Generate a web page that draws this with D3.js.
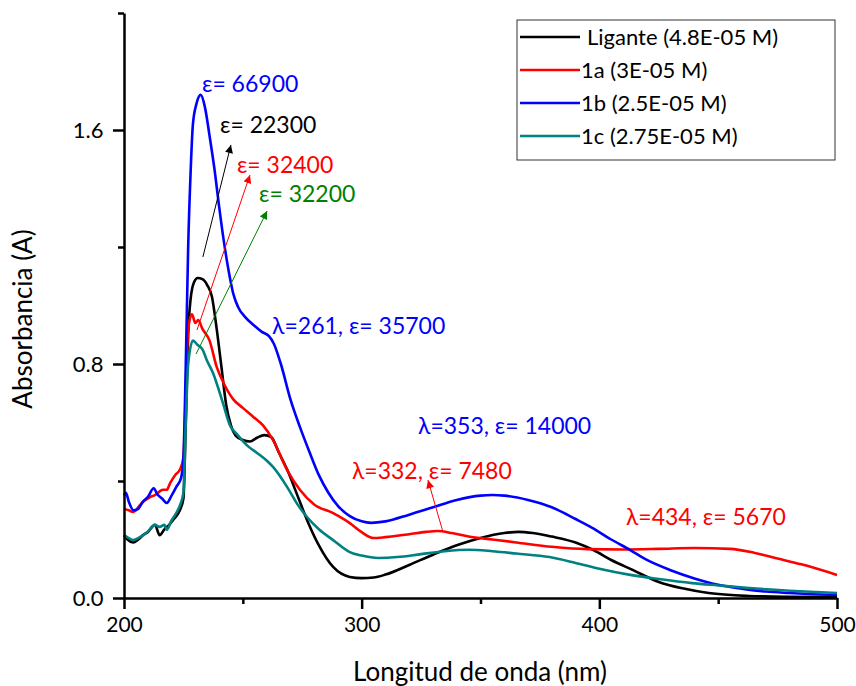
<!DOCTYPE html>
<html>
<head>
<meta charset="utf-8">
<script src="https://cdn.jsdelivr.net/npm/d3@7"></script>
<style>
  body { margin: 0; background: #fff; }
  text { font-family: Lato, "Open Sans", sans-serif; }
</style>
</head>
<body>
<div id="chart"></div>
<script>
// Series data: [wavelength nm, absorbance]
var ligante = [[200,0.215],[201.5,0.20],[203.8,0.19],[206,0.20],[208,0.215],[210,0.225],[213,0.25],[215,0.215],[217,0.235],[219,0.25],[221,0.27],[223.5,0.30],[225,0.34],[226,0.6],[227,0.9],[228,1.02],[229.5,1.08],[231,1.094],[233,1.09],[235,1.07],[237,1.03],[239,0.92],[241,0.79],[243,0.66],[245,0.59],[247,0.555],[250,0.54],[253,0.535],[256,0.548],[259,0.557],[262,0.55],[265,0.50],[268.6,0.44],[273,0.35],[277,0.267],[282,0.18],[288,0.106],[295,0.072],[300,0.068],[305,0.07],[310,0.08],[320,0.113],[330,0.148],[340,0.18],[350,0.205],[360,0.222],[366,0.226],[372,0.222],[380,0.21],[390,0.19],[397.5,0.164],[405,0.13],[414,0.096],[425,0.055],[435,0.033],[446,0.017],[463,0.007],[480,0.004],[500,0.003]];
var s1a = [[200,0.304],[202,0.30],[203.8,0.294],[205,0.30],[206.7,0.318],[209,0.335],[211,0.345],[213,0.352],[216.4,0.37],[218,0.37],[219.4,0.393],[221.5,0.42],[223.6,0.44],[225,0.48],[226,0.7],[227,0.92],[228.6,0.97],[230,0.94],[231.2,0.95],[233,0.92],[236,0.88],[239,0.79],[241.6,0.74],[245.9,0.68],[250,0.65],[254.3,0.62],[258.5,0.59],[262.7,0.54],[268.6,0.438],[274,0.37],[280,0.32],[288,0.29],[295,0.256],[300,0.225],[305,0.205],[310,0.208],[320,0.218],[327,0.226],[332,0.229],[338,0.222],[345,0.21],[355,0.2],[365,0.19],[380,0.175],[395,0.167],[410,0.166],[425,0.168],[440,0.171],[455,0.168],[465,0.155],[475,0.135],[485,0.115],[500,0.079]];
var s1b = [[200,0.35],[200.8,0.36],[202,0.33],[204,0.30],[206,0.305],[208,0.33],[210,0.345],[212.5,0.375],[214,0.355],[216,0.34],[218,0.325],[220,0.35],[222,0.38],[224,0.41],[225,0.48],[226,0.8],[227,1.2],[228,1.45],[229,1.62],[230.5,1.69],[232.3,1.72],[234,1.68],[236,1.58],[238,1.47],[240,1.34],[242,1.22],[244,1.12],[246,1.04],[248,0.995],[251,0.96],[255,0.93],[258,0.91],[261,0.895],[263,0.87],[266,0.80],[270,0.68],[274,0.585],[278,0.50],[282,0.42],[286,0.36],[290,0.315],[295,0.28],[300,0.262],[304,0.257],[310,0.262],[320,0.285],[330,0.31],[340,0.335],[350,0.35],[355,0.352],[360,0.35],[370,0.335],[380,0.31],[390,0.27],[397,0.24],[405,0.2],[413,0.164],[420,0.13],[430,0.095],[440,0.067],[450,0.045],[460,0.032],[470,0.022],[480,0.017],[490,0.013],[500,0.010]];
var s1c = [[200,0.215],[202,0.205],[203.8,0.198],[206.7,0.208],[209.7,0.225],[213,0.25],[215,0.243],[217,0.25],[218,0.233],[220,0.265],[221.5,0.284],[223.6,0.318],[225,0.36],[226,0.6],[227,0.8],[229,0.88],[231,0.865],[233,0.85],[235,0.81],[237.4,0.77],[241.6,0.667],[244.6,0.59],[247.5,0.56],[252,0.52],[256,0.496],[260,0.47],[262.7,0.448],[268.6,0.38],[273,0.32],[277,0.277],[282,0.235],[288,0.198],[295,0.157],[300,0.145],[307,0.137],[315,0.14],[325,0.15],[335,0.16],[345,0.165],[355,0.16],[365,0.152],[379,0.14],[390,0.12],[400,0.1],[413,0.079],[425,0.065],[439,0.051],[450,0.043],[463,0.034],[480,0.025],[500,0.017]];

var seriesNames = ["Ligante (4.8E-05 M)", "1a (3E-05 M)", "1b (2.5E-05 M)", "1c (2.75E-05 M)"];
var seriesColors = ["#000000", "#ff0000", "#0000ff", "#008080"];
var seriesData = [ligante, s1a, s1b, s1c];

var xMajor = [200, 300, 400, 500];
var xMinor = [250, 350, 450];
var yMajor = [0, 0.8, 1.6];
var yMinor = [0.4, 1.2, 2.0];

// Annotations in data units: label, colour, x, y
var labels = [
    ["ε= 66900", "#0000ff", 232.8, 1.73],
    ["ε= 22300", "#000000", 240.4, 1.59],
    ["ε= 32400", "#ff0000", 247.5, 1.453],
    ["ε= 32200", "#008000", 256.8, 1.354],
    ["λ=261, ε= 35700", "#0000ff", 262.3, 0.903],
    ["λ=353, ε= 14000", "#0000ff", 323.7, 0.561],
    ["λ=332, ε= 7480", "#ff0000", 295.9, 0.407],
    ["λ=434, ε= 5670", "#ff0000", 411.2, 0.25]
];
// Arrows: colour, from x, y, to x, y
var arrows = [
    ["#000000", 233.2, 1.166, 245.0, 1.549],
    ["#ff0000", 230.7, 0.916, 253.0, 1.446],
    ["#008000", 230.3, 0.834, 260.2, 1.323],
    ["#ff0000", 334.2, 0.226, 327.9, 0.403]
];

var W = 856, H = 686;
var margin = { top: 13, right: 19, bottom: 88, left: 124 },
    width = W - margin.left - margin.right,
    height = H - margin.top - margin.bottom;

var svg = d3.select('#chart').append('svg')
    .attr('width', W)
    .attr('height', H);

var g = svg.append('g')
    .attr('transform', 'translate(' + margin.left + ',' + margin.top + ')');

var x = d3.scaleLinear().domain([200, 500]).range([0, width]);
var y = d3.scaleLinear().domain([0, 2.0]).range([height, 0]);

// Arrow heads
var defs = svg.append('defs');
arrows.forEach(function (a, i) {
    defs.append('marker')
        .attr('id', 'arr' + i)
        .attr('viewBox', '0 0 10 10')
        .attr('refX', 10).attr('refY', 5)
        .attr('markerWidth', 10).attr('markerHeight', 8)
        .attr('markerUnits', 'userSpaceOnUse')
        .attr('orient', 'auto')
        .append('path')
        .attr('d', 'M0,0 L10,5 L0,10 z')
        .attr('fill', a[0]);
});

// Curves
var line = d3.line()
    .x(function (d) { return x(d[0]); })
    .y(function (d) { return y(d[1]); })
    .curve(d3.curveMonotoneX);

g.selectAll('path.series')
    .data(seriesData)
    .enter().append('path')
    .attr('class', 'series')
    .attr('fill', 'none')
    .attr('stroke', function (d, i) { return seriesColors[i]; })
    .attr('stroke-width', 2.6)
    .attr('stroke-linejoin', 'round')
    .attr('d', line);

// Arrows
g.selectAll('line.arrow')
    .data(arrows)
    .enter().append('line')
    .attr('class', 'arrow')
    .attr('x1', function (d) { return x(d[1]); })
    .attr('y1', function (d) { return y(d[2]); })
    .attr('x2', function (d) { return x(d[3]); })
    .attr('y2', function (d) { return y(d[4]); })
    .attr('stroke', function (d) { return d[0]; })
    .attr('stroke-width', 1)
    .attr('marker-end', function (d, i) { return 'url(#arr' + i + ')'; });

// Annotation labels
g.selectAll('text.note')
    .data(labels)
    .enter().append('text')
    .attr('class', 'note')
    .attr('x', function (d) { return x(d[2]); })
    .attr('y', function (d) { return y(d[3]); })
    .attr('fill', function (d) { return d[1]; })
    .style('font-size', '23px')
    .text(function (d) { return d[0]; });

// Axes
function styleAxis(sel) {
    sel.selectAll('path.domain').attr('stroke-width', 2.5);
    sel.selectAll('.tick line').attr('stroke-width', 2.5);
    sel.selectAll('.tick text').style('font-size', '21px').attr('fill', '#000');
}

var xAxis = g.append('g')
    .attr('transform', 'translate(0,' + height + ')')
    .call(d3.axisBottom(x).tickValues(xMajor).tickSize(11).tickSizeOuter(0).tickFormat(d3.format('d')))
    .call(styleAxis);
xAxis.selectAll('.tick text').attr('dy', '0.95em');

g.append('g')
    .attr('transform', 'translate(0,' + height + ')')
    .call(d3.axisBottom(x).tickValues(xMinor).tickSize(6).tickFormat(''))
    .call(function (s) { s.select('path.domain').remove(); })
    .call(styleAxis);

var yAxis = g.append('g')
    .call(d3.axisLeft(y).tickValues(yMajor).tickSize(11).tickSizeOuter(0).tickFormat(d3.format('.1f')))
    .call(styleAxis);
yAxis.selectAll('.tick text').attr('dx', '-0.3em').style('font-size', '22px');

g.append('g')
    .call(d3.axisLeft(y).tickValues(yMinor).tickSize(6).tickFormat(''))
    .call(function (s) { s.select('path.domain').remove(); })
    .call(styleAxis);

// Axis titles
svg.append('text')
    .attr('x', 480)
    .attr('y', 681)
    .attr('text-anchor', 'middle')
    .style('font-size', '26px')
    .text('Longitud de onda (nm)');

svg.append('text')
    .attr('transform', 'translate(32,319) rotate(-90)')
    .attr('text-anchor', 'middle')
    .style('font-size', '26px')
    .text('Absorbancia (A)');

// Legend
var legend = svg.append('g').attr('transform', 'translate(517,20)');
legend.append('rect')
    .attr('width', 318).attr('height', 140)
    .attr('fill', '#fff')
    .attr('stroke', '#333')
    .attr('stroke-width', 1);

var items = legend.selectAll('g.item')
    .data(seriesNames)
    .enter().append('g')
    .attr('class', 'item')
    .attr('transform', function (d, i) { return 'translate(0,' + (17 + i * 33) + ')'; });

items.append('line')
    .attr('x1', 3).attr('x2', 63)
    .attr('stroke', function (d, i) { return seriesColors[i]; })
    .attr('stroke-width', 2.6);

items.append('text')
    .attr('x', function (d, i) { return i == 0 ? 70 : 64; })
    .attr('dy', '0.35em')
    .style('font-size', '22px')
    .text(function (d) { return d; });
</script>
</body>
</html>
